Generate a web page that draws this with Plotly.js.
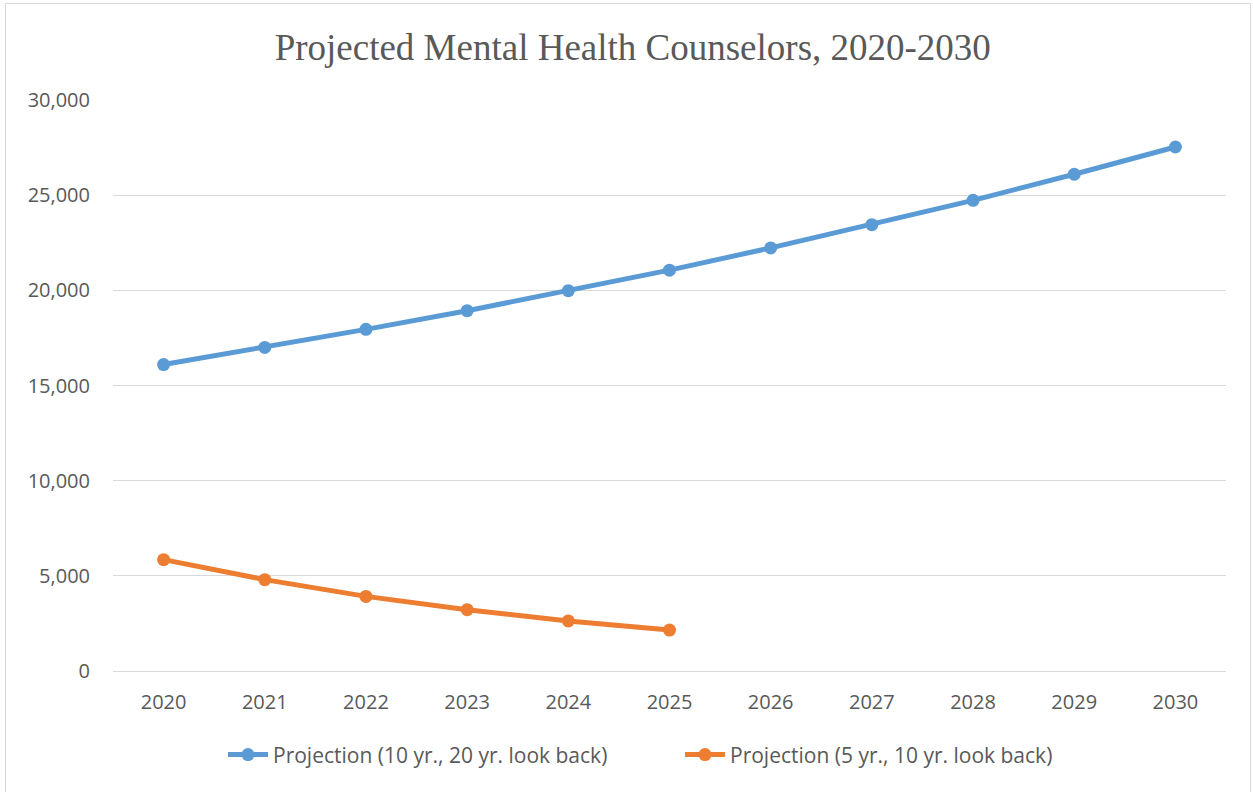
<!DOCTYPE html>
<html><head><meta charset="utf-8">
<script src="https://cdn.plot.ly/plotly-3.0.1.min.js"></script>
<style>
html,body{margin:0;padding:0;background:#fff;overflow:hidden;}
#frame{position:absolute;left:5px;top:3px;width:1246px;height:800px;border:1px solid #d9d9d9;box-sizing:border-box;}
#chart{position:absolute;left:0;top:0;width:1253px;height:792px;}
</style></head>
<body>
<div id="frame"></div>
<div id="chart"></div>
<script>
const years = ["2020","2021","2022","2023","2024","2025","2026","2027","2028","2029","2030"];
const proj10yr = [16100, 17000, 17950, 18930, 19980, 21060, 22230, 23450, 24730, 26100, 27530];
const years5 = ["2020","2021","2022","2023","2024","2025"];
const proj5yr = [5850, 4800, 3920, 3220, 2630, 2150];
const seriesNames = ["Projection (10 yr., 20 yr. look back)", "Projection (5 yr., 10 yr. look back)"];

const traces = [
  {x: years, y: proj10yr, name: seriesNames[0], type: 'scatter', mode: 'lines+markers',
   line: {color: '#5B9BD5', width: 5}, marker: {color: '#5B9BD5', size: 13}},
  {x: years5, y: proj5yr, name: seriesNames[1], type: 'scatter', mode: 'lines+markers',
   line: {color: '#ED7D31', width: 5}, marker: {color: '#ED7D31', size: 13}}
];
const layout = {
  width: 1253, height: 792,
  paper_bgcolor: 'rgba(0,0,0,0)', plot_bgcolor: 'rgba(0,0,0,0)',
  margin: {l: 113, r: 27, t: 100, b: 121},
  title: {text: 'Projected Mental Health Counselors, 2020-2030', x: 0.505, xanchor: 'center', y: 0.94, yanchor: 'middle',
          font: {family: 'Liberation Serif, Times New Roman, serif', size: 37, color: '#595959'}},
  font: {family: 'Open Sans, Arial, sans-serif', color: '#595959', size: 20},
  xaxis: {type: 'category', categoryarray: years, range: [-0.5, 10.5], showgrid: false,
          showline: true, linecolor: '#d9d9d9', linewidth: 1,
          ticks: 'outside', ticklen: 13, tickcolor: 'rgba(0,0,0,0)',
          tickfont: {size: 20, color: '#595959'}, fixedrange: true},
  yaxis: {range: [0, 30000], dtick: 5000, tickformat: ',d', showgrid: true, gridcolor: '#d9d9d9', gridwidth: 1,
          zeroline: false, showline: false,
          ticks: 'outside', ticklen: 18, tickcolor: 'rgba(0,0,0,0)',
          tickfont: {size: 20, color: '#595959'}, fixedrange: true},
  legend: {orientation: 'h', x: (223 - 113) / 1113, xanchor: 'left', y: -0.147, yanchor: 'middle',
           font: {size: 21, color: '#595959'}, itemwidth: 40, entrywidth: 402, traceorder: 'normal'},
  showlegend: true
};
Plotly.newPlot('chart', traces, layout, {displayModeBar: false, staticPlot: true});
</script>
</body></html>
